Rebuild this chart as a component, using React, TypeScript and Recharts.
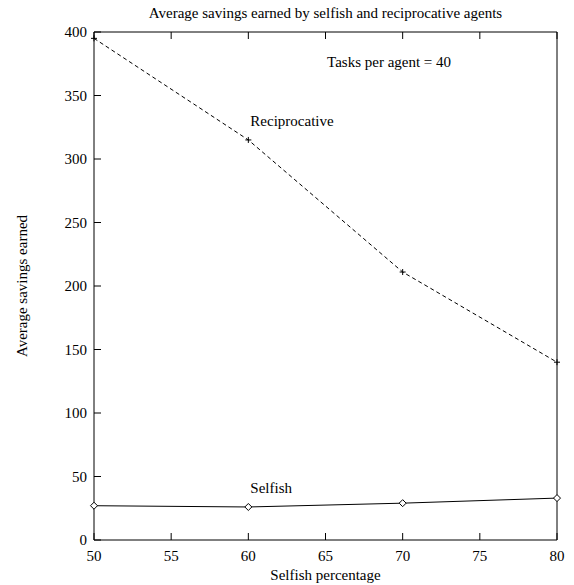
import { LineChart, Line, XAxis, YAxis, ReferenceDot } from 'recharts';

const selfishPct = [50, 60, 70, 80];
const reciprocative = [395, 315, 211, 140];
const selfish = [27, 26, 29, 33];
const xTicks = [50, 55, 60, 65, 70, 75, 80];
const yTicks = [0, 50, 100, 150, 200, 250, 300, 350, 400];

const data = selfishPct.map((p, i) => ({
  pct: p,
  reciprocative: reciprocative[i],
  selfish: selfish[i],
}));

const FONT = '"Liberation Serif", "Times New Roman", serif';
const TICK = 7;

// gnuplot style: ticks point into the plot on all four sides
const BottomTick = ({ x, y, payload }: any) => (
  <g>
    <line x1={x} y1={y} x2={x} y2={y - TICK} stroke="#000" />
    <text x={x} y={y + 21} textAnchor="middle" fontSize={15} fontFamily={FONT} fill="#000">
      {payload.value}
    </text>
  </g>
);
const TopTick = ({ x, y }: any) => <line x1={x} y1={y} x2={x} y2={y + TICK} stroke="#000" />;
const LeftTick = ({ x, y, payload }: any) => (
  <g>
    <line x1={x} y1={y} x2={x + TICK} y2={y} stroke="#000" />
    <text x={x - 7} y={y + 5} textAnchor="end" fontSize={15} fontFamily={FONT} fill="#000">
      {payload.value}
    </text>
  </g>
);
const RightTick = ({ x, y }: any) => <line x1={x} y1={y} x2={x - TICK} y2={y} stroke="#000" />;

const PlusDot = ({ cx, cy }: any) => (
  <g stroke="#000">
    <line x1={cx - 3} y1={cy} x2={cx + 3} y2={cy} />
    <line x1={cx} y1={cy - 3} x2={cx} y2={cy + 3} />
  </g>
);
const DiamondDot = ({ cx, cy }: any) => (
  <polygon
    points={`${cx},${cy - 3.5} ${cx + 3.5},${cy} ${cx},${cy + 3.5} ${cx - 3.5},${cy}`}
    fill="#fff"
    stroke="#000"
  />
);

const note = (text: string, dx: number, dy: number) => (props: any) => (
  <text x={props.cx + dx} y={props.cy + dy} fontSize={15} fontFamily={FONT} fill="#000" dominantBaseline="middle">
    {text}
  </text>
);

const axisCommon = {
  interval: 0 as const,
  tickSize: 0,
  tickMargin: 0,
  tickLine: false,
  axisLine: { stroke: '#000' },
};

export default function App() {
  return (
    <div style={{ position: 'absolute', left: 0, top: 0, width: 574, height: 585, background: '#fff', fontFamily: FONT }}>
      <div style={{ position: 'absolute', left: 94, width: 463, top: 5, textAlign: 'center', fontSize: 15 }}>
        Average savings earned by selfish and reciprocative agents
      </div>
      <div style={{ position: 'absolute', left: 94, width: 463, top: 567, textAlign: 'center', fontSize: 15, lineHeight: '17px' }}>
        Selfish percentage
      </div>
      <div
        style={{
          position: 'absolute',
          left: 22,
          top: 286,
          fontSize: 15,
          whiteSpace: 'nowrap',
          transform: 'translate(-50%, -50%) rotate(-90deg)',
        }}
      >
        Average savings earned
      </div>
      <LineChart width={574} height={585} data={data} margin={{ top: 31, right: 16, bottom: 44, left: 93 }}>
        <XAxis dataKey="pct" type="number" domain={[50, 80]} ticks={xTicks} height={1} tick={<BottomTick />} {...axisCommon} />
        <XAxis
          xAxisId="top"
          orientation="top"
          dataKey="pct"
          type="number"
          domain={[50, 80]}
          ticks={xTicks}
          height={1}
          tick={<TopTick />}
          {...axisCommon}
        />
        <YAxis type="number" domain={[0, 400]} ticks={yTicks} width={1} tick={<LeftTick />} {...axisCommon} />
        <YAxis
          yAxisId="right"
          orientation="right"
          type="number"
          domain={[0, 400]}
          ticks={yTicks}
          width={1}
          tick={<RightTick />}
          {...axisCommon}
        />
        <Line
          dataKey="reciprocative"
          stroke="#000"
          strokeWidth={1}
          strokeDasharray="4 3"
          dot={<PlusDot />}
          isAnimationActive={false}
        />
        <Line dataKey="selfish" stroke="#000" strokeWidth={1} dot={<DiamondDot />} isAnimationActive={false} />
        <ReferenceDot x={60} y={315} r={0} shape={note('Reciprocative', 2, -17)} />
        <ReferenceDot x={60} y={26} r={0} shape={note('Selfish', 2, -17)} />
        <ReferenceDot x={65.1} y={375} r={0} shape={note('Tasks per agent = 40', 0, 0)} />
      </LineChart>
    </div>
  );
}
